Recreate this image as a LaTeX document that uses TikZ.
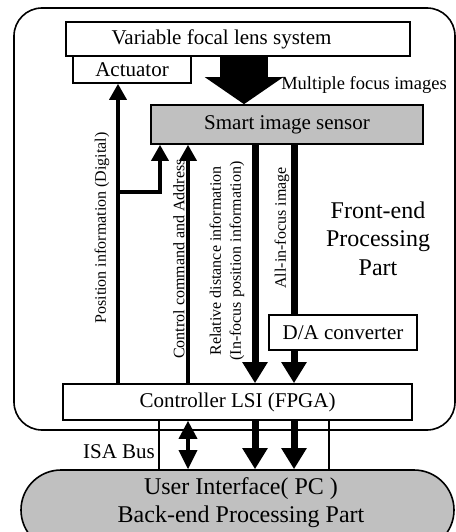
\documentclass[tikz,border=0pt]{standalone}
\usepackage{fontspec}
\setmainfont{Liberation Serif}
\usetikzlibrary{arrows.meta}
\definecolor{panel}{RGB}{192,192,192}
\begin{document}
\begin{tikzpicture}[x=1pt,y=-1pt,
  box/.style={draw, line width=1.6pt, fill=white, inner sep=0pt,
    font=\fontsize{21}{24}\selectfont},
  vlabel/.style={rotate=90, inner sep=0pt, align=center,
    font=\fontsize{16}{20}\selectfont},
  thinarrow/.style={line width=3.5pt, -{Triangle[width=17pt,length=16pt]}},
  thinline/.style={line width=3.5pt},
  busarrow/.style={line width=3.5pt,
    {Triangle[width=18pt,length=18pt]}-{Triangle[width=18pt,length=19pt]}},
  fatarrow/.style={line width=7pt, -{Triangle[width=24pt,length=21pt]}},
  fatline/.style={line width=7pt},
  wire/.style={line width=1.6pt}]
\useasboundingbox (0,0) rectangle (455,532);

% front-end frame
\node[draw, line width=1.6pt, rounded corners=28pt, minimum width=441pt,
  minimum height=422pt, inner sep=0pt] (frame) at (234.5,219) {};

% back-end part
\node[draw, line width=1.6pt, fill=panel, rounded corners=40pt,
  minimum width=433pt, minimum height=80pt, inner sep=0pt] (ui) at (237.5,510) {};
\node[align=center, inner sep=0pt, font=\fontsize{24}{28}\selectfont] (uitext)
  at (241,503) {User Interface( PC )\\Back-end Processing Part};

% blocks
\node[box, minimum width=344pt, minimum height=34pt] (lens) at (238,39)
  {\hspace*{-33pt}Variable focal lens system};
\node[box, minimum width=118pt, minimum height=27pt] (act) at (132,69.5) {Actuator};
\node[box, fill=panel, minimum width=272pt, minimum height=39pt] (sensor)
  at (287,124.5) {Smart image sensor};
\node[box, minimum width=148pt, minimum height=35pt] (da) at (343,332.5) {D/A converter};
\node[box, minimum width=349pt, minimum height=36pt] (ctrl) at (237.5,402)
  {Controller LSI (FPGA)};

% column positions of the signal lines
\coordinate (xpos) at (118,0);
\coordinate (xbr) at (160,0);
\coordinate (xcmd) at (188,0);
\coordinate (ximg) at (244,0);
\coordinate (xrel) at (255,0);
\coordinate (xall) at (294,0);
\coordinate (xbusl) at (159,0);
\coordinate (xbusr) at (329,0);
\coordinate (brk) at (0,192);

% optical path
\draw[line width=48pt, -{Triangle[width=77pt,length=27pt]}]
  (lens.south -| ximg) -- (sensor.north -| ximg);
\node[inner sep=0pt, font=\fontsize{18.5}{22}\selectfont] (mfi) at (364,85)
  {Multiple focus images};

% controller to actuator and sensor
\draw[thinarrow] (ctrl.north -| xpos) -- (act.south -| xpos);
\draw[thinarrow] (xpos |- brk) -- (xbr |- brk) -- (sensor.south -| xbr);
\draw[thinarrow] (ctrl.north -| xcmd) -- (sensor.south -| xcmd);

% sensor to controller
\draw[fatarrow] (sensor.south -| xrel) -- (ctrl.north -| xrel);
\draw[fatline] (sensor.south -| xall) -- (da.north -| xall);
\draw[fatarrow] (da.south -| xall) -- (ctrl.north -| xall);

% ISA bus
\draw[wire] (ctrl.south -| xbusl) -- (ui.north -| xbusl);
\draw[wire] (ctrl.south -| xbusr) -- (ui.north -| xbusr);
\draw[busarrow] (ctrl.south -| xcmd) -- (ui.north -| xcmd);
\draw[fatarrow] (ctrl.south -| xrel) -- (ui.north -| xrel);
\draw[fatarrow] (ctrl.south -| xall) -- (ui.north -| xall);
\node[inner sep=0pt, font=\fontsize{21}{24}\selectfont] (isa) at (119,452) {ISA Bus};

% signal labels
\node[vlabel] (lpos) at (102,228) {Position information (Digital)};
\node[vlabel] (lcmd) at (179,259) {Control command and Address};
\node[vlabel] (lrel) at (227,261)
  {Relative distance information\\(In-focus position information)};
\node[vlabel] (lall) at (282,228) {All-in-focus image};

% part title
\node[align=center, inner sep=0pt, font=\fontsize{24}{28.5}\selectfont] (fe)
  at (378,238.5) {Front-end\\Processing\\Part};
\end{tikzpicture}
\end{document}
